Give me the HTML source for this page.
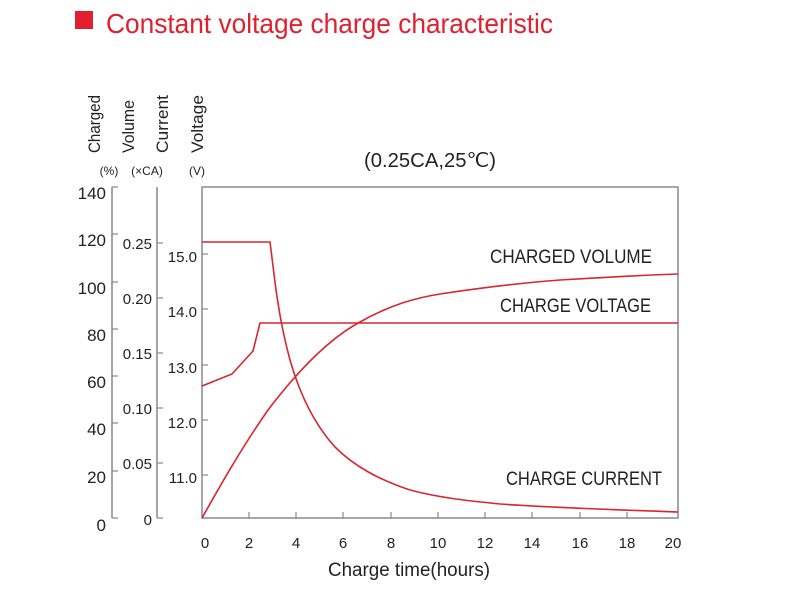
<!DOCTYPE html>
<html><head><meta charset="utf-8"><style>
html,body{margin:0;padding:0;background:#fff;}
svg{display:block;font-family:"Liberation Sans",sans-serif;}
</style></head><body>
<svg width="800" height="600" viewBox="0 0 800 600" xmlns="http://www.w3.org/2000/svg">
<rect x="75" y="11" width="18" height="18" fill="#e0202e"/>
<text x="106" y="33" font-size="28" fill="#e0202e" textLength="447" lengthAdjust="spacingAndGlyphs">Constant voltage charge characteristic</text>

<g fill="#222" font-size="17">
<text transform="translate(100,153) rotate(-90)" textLength="58" lengthAdjust="spacingAndGlyphs">Charged</text>
<text transform="translate(134,153) rotate(-90)" textLength="53" lengthAdjust="spacingAndGlyphs">Volume</text>
<text transform="translate(168,153) rotate(-90)" textLength="58" lengthAdjust="spacingAndGlyphs">Current</text>
<text transform="translate(203,153) rotate(-90)" textLength="58" lengthAdjust="spacingAndGlyphs">Voltage</text>
</g>
<g fill="#222" font-size="12" text-anchor="middle">
<text x="109" y="175">(%)</text>
<text x="147" y="175">(×CA)</text>
<text x="197" y="175">(V)</text>
</g>

<g stroke="#888" stroke-width="1.5" fill="none">
<line x1="112" y1="187" x2="112" y2="518"/>
<line x1="157" y1="187" x2="157" y2="518"/>
<rect x="202" y="187" width="476" height="331"/>
</g>
<g stroke="#888" stroke-width="1.2">
<line x1="112" y1="187" x2="118" y2="187"/><line x1="112" y1="234" x2="118" y2="234"/><line x1="112" y1="282" x2="118" y2="282"/><line x1="112" y1="329" x2="118" y2="329"/><line x1="112" y1="376" x2="118" y2="376"/><line x1="112" y1="423" x2="118" y2="423"/><line x1="112" y1="471" x2="118" y2="471"/><line x1="112" y1="518" x2="118" y2="518"/>
<line x1="157" y1="243" x2="163" y2="243"/><line x1="157" y1="298" x2="163" y2="298"/><line x1="157" y1="353" x2="163" y2="353"/><line x1="157" y1="408" x2="163" y2="408"/><line x1="157" y1="463" x2="163" y2="463"/><line x1="157" y1="518" x2="163" y2="518"/>
<line x1="202" y1="254" x2="208" y2="254"/><line x1="202" y1="309" x2="208" y2="309"/><line x1="202" y1="365" x2="208" y2="365"/><line x1="202" y1="420" x2="208" y2="420"/><line x1="202" y1="475" x2="208" y2="475"/>
<line x1="249" y1="518" x2="249" y2="512"/><line x1="296" y1="518" x2="296" y2="512"/><line x1="343" y1="518" x2="343" y2="512"/><line x1="391" y1="518" x2="391" y2="512"/><line x1="438" y1="518" x2="438" y2="512"/><line x1="485" y1="518" x2="485" y2="512"/><line x1="532" y1="518" x2="532" y2="512"/><line x1="580" y1="518" x2="580" y2="512"/><line x1="627" y1="518" x2="627" y2="512"/>
</g>

<g fill="#222" font-size="17" text-anchor="end">
<text x="106" y="199">140</text><text x="106" y="246">120</text><text x="106" y="294">100</text><text x="106" y="341">80</text><text x="106" y="388">60</text><text x="106" y="435">40</text><text x="106" y="483">20</text><text x="106" y="531">0</text>
</g>
<g fill="#222" font-size="15" text-anchor="end">
<text x="152" y="249">0.25</text><text x="152" y="304">0.20</text><text x="152" y="359">0.15</text><text x="152" y="414">0.10</text><text x="152" y="469">0.05</text><text x="152" y="525">0</text>
<text x="197" y="262">15.0</text><text x="197" y="317">14.0</text><text x="197" y="373">13.0</text><text x="197" y="428">12.0</text><text x="197" y="483">11.0</text>
</g>
<g fill="#222" font-size="15" text-anchor="middle">
<text x="205" y="548">0</text><text x="249" y="548">2</text><text x="296" y="548">4</text><text x="343" y="548">6</text><text x="391" y="548">8</text><text x="438" y="548">10</text><text x="485" y="548">12</text><text x="532" y="548">14</text><text x="580" y="548">16</text><text x="627" y="548">18</text><text x="673" y="548">20</text>
</g>
<text x="409" y="576" font-size="19" fill="#222" text-anchor="middle" textLength="162" lengthAdjust="spacingAndGlyphs">Charge time(hours)</text>
<text x="430" y="167" font-size="20" fill="#222" text-anchor="middle" textLength="132" lengthAdjust="spacingAndGlyphs">(0.25CA,25℃)</text>

<g fill="#222" font-size="19">
<text x="490" y="263" textLength="162" lengthAdjust="spacingAndGlyphs">CHARGED VOLUME</text>
<text x="500" y="312" textLength="151" lengthAdjust="spacingAndGlyphs">CHARGE VOLTAGE</text>
<text x="506" y="485" textLength="156" lengthAdjust="spacingAndGlyphs">CHARGE CURRENT</text>
</g>

<g stroke="#d8262e" stroke-width="1.6" fill="none">
<path d="M202,242 L270,242 L276,290 C279,310 282,330 290,360 C300,395 315,425 335,447 C355,467 380,480 410,490 C440,498 470,501 500,504 C560,508 620,510 678,512"/>
<polyline points="202,386 232,374 253,351 260,323 678,323"/>
<path d="M202,518 C215,495 240,450 268,410 C300,368 330,338 360,322 C390,305 415,298 440,294 C480,288 520,283 560,280 C610,277 650,275 678,274"/>
</g>
</svg>
</body></html>
